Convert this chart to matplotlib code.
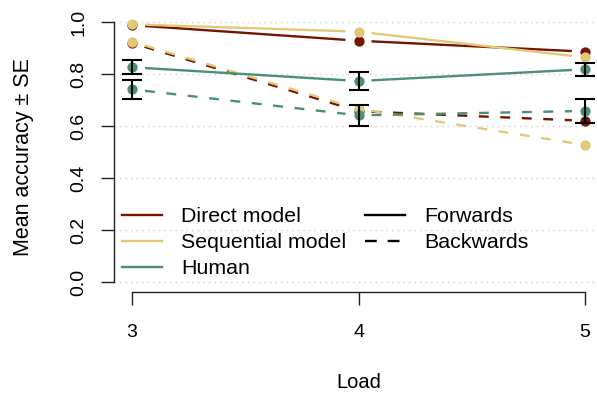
import numpy as np
import matplotlib
matplotlib.use("Agg")
import matplotlib.pyplot as plt
from matplotlib.lines import Line2D

plt.rcParams['font.family'] = ['Liberation Sans', 'DejaVu Sans']

# data
load = [3, 4, 5]
direct_fwd = [0.988, 0.928, 0.886]
direct_bwd = [0.919, 0.657, 0.620]
seq_fwd = [0.991, 0.963, 0.864]
seq_bwd = [0.924, 0.666, 0.527]
human_fwd = [0.826, 0.773, 0.818]
human_fwd_se = [0.026, 0.036, 0.024]
human_bwd = [0.741, 0.641, 0.658]
human_bwd_se = [0.036, 0.040, 0.045]

col_direct = '#751400'
col_seq = '#E1C977'
col_human = '#4A8F77'

W, H = 597, 394
fig = plt.figure(figsize=(W / 100, H / 100), dpi=100)
ax = fig.add_axes([114 / W, 1 - 292.4 / H, (603 - 114) / W, (292.4 - 11.6) / H])
ax.set_xlim(2.92, 5.08)
ax.set_ylim(-0.04, 1.04)

for yv in np.arange(0, 1.01, 0.2):
    ax.axhline(yv, color='#CFCFCF', lw=1, ls=(0, (1, 3)), zorder=0)

GAP = 13  # px left empty around each point (R type="b")
# pixels per data unit, from the axes box
px_x = ax.get_position().width * W / (5.08 - 2.92)
px_y = ax.get_position().height * H / (1.04 + 0.04)


def gapped(x, y, **kw):
    for i in range(len(x) - 1):
        dx = (x[i + 1] - x[i]) * px_x
        dy = (y[i + 1] - y[i]) * px_y
        L = np.hypot(dx, dy)
        ox = GAP * dx / L / px_x
        oy = GAP * dy / L / px_y
        ax.plot([x[i] + ox, x[i + 1] - ox], [y[i] + oy, y[i + 1] - oy], **kw)


LW = 1.7
DASH = (0, (4.2, 4.9))
series = [
    (direct_fwd, col_direct, '-'),
    (direct_bwd, col_direct, DASH),
    (seq_fwd, col_seq, '-'),
    (seq_bwd, col_seq, DASH),
    (human_fwd, col_human, '-'),
    (human_bwd, col_human, DASH),
]
for z, (vals, c, ls) in enumerate(series):
    gapped(load, vals, color=c, lw=LW, ls=ls, zorder=2 + z, solid_capstyle='butt', dash_capstyle='butt')
    ax.plot(load, vals, 'o', ms=7.4, color=c, mec=c, mew=0, zorder=2 + z)

for vals, se in [(human_fwd, human_fwd_se), (human_bwd, human_bwd_se)]:
    ax.errorbar(load, vals, yerr=se, fmt='none', ecolor='black', elinewidth=1.5,
                capsize=7.5, capthick=1.5, zorder=10)

for s in ['top', 'right']:
    ax.spines[s].set_visible(False)
ax.spines['left'].set_bounds(0, 1)
ax.spines['bottom'].set_bounds(3, 5)
for s in ['left', 'bottom']:
    ax.spines[s].set_linewidth(1.0)
    ax.spines[s].set_color('#222222')

ax.set_xticks(load)
ax.set_yticks([0, 0.2, 0.4, 0.6, 0.8, 1.0])
ax.set_yticklabels(['0.0', '0.2', '0.4', '0.6', '0.8', '1.0'])
ax.tick_params(axis='both', length=9.4, width=1.0, color='#222222', labelsize=14)
ax.tick_params(axis='y', pad=9.5)
ax.tick_params(axis='x', pad=13)
plt.setp(ax.get_yticklabels(), rotation=90, va='center')

fig.text(24 / W, 1 - 157 / H, 'Mean accuracy ± SE', rotation=90, ha='center', va='center', fontsize=15.5)
fig.text(358.5 / W, 1 - 383 / H, 'Load', ha='center', va='center', fontsize=14.5)

h1 = [Line2D([], [], color=c, lw=LW) for c in [col_direct, col_seq, col_human]]
leg1 = fig.legend(h1, ['Direct model', 'Sequential model', 'Human'], loc='upper left',
                  bbox_to_anchor=(122 / W, 1 - 207 / H), frameon=False, fontsize=15.4,
                  borderpad=0, borderaxespad=0, handlelength=1.87, handletextpad=0.89,
                  labelspacing=0.33)
h2 = [Line2D([], [], color='black', lw=LW, ls='-'),
      Line2D([], [], color='black', lw=LW, ls=(0, (5, 4.6)))]
leg2 = fig.legend(h2, ['Forwards', 'Backwards'], loc='upper left',
                  bbox_to_anchor=(365 / W, 1 - 207 / H), frameon=False, fontsize=15.4,
                  borderpad=0, borderaxespad=0, handlelength=1.87, handletextpad=0.89,
                  labelspacing=0.33)

fig.savefig('out.png', dpi=100)
